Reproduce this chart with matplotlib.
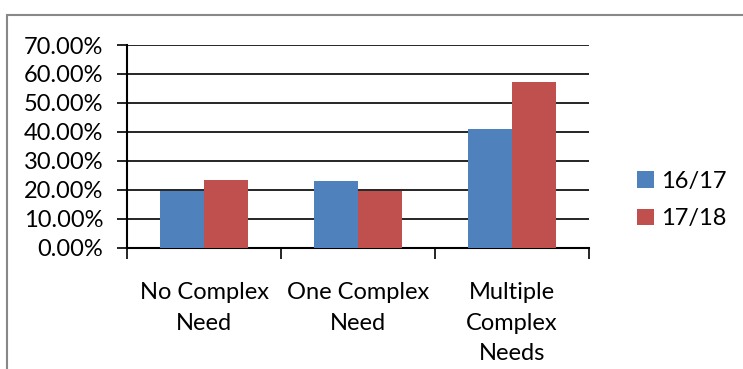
import matplotlib
matplotlib.use("Agg")
import matplotlib.pyplot as plt
from matplotlib.patches import Rectangle
from matplotlib.ticker import FixedLocator, PercentFormatter
import numpy as np

categories = ["No Complex\nNeed", "One Complex\nNeed", "Multiple\nComplex\nNeeds"]
series_names = ["16/17", "17/18"]
values_1617 = [19.7, 23.0, 41.0]
values_1718 = [23.4, 19.7, 57.2]
y_ticks = [0, 10, 20, 30, 40, 50, 60, 70]

colors = ["#4F81BD", "#C0504D"]
plt.rcParams["font.family"] = ["Lato", "DejaVu Sans"]
FS = 17

W, H, DPI = 743, 369, 100
fig = plt.figure(figsize=(W / DPI, H / DPI), dpi=DPI)

# outer chart frame
fig.patches.append(Rectangle((7 / W, -0.1), 1.1, 1 - 15 / H + 0.1,
                             transform=fig.transFigure, fill=False,
                             edgecolor="#888888", linewidth=1.5))

ax = fig.add_axes([127 / W, 1 - 247.7 / H, (589 - 127) / W, (247.7 - 45) / H])

x = np.arange(len(categories))
bw = 0.286
ax.bar(x - bw / 2, values_1617, bw, color=colors[0], label=series_names[0], zorder=3)
ax.bar(x + bw / 2, values_1718, bw, color=colors[1], label=series_names[1], zorder=3)

ax.set_xlim(-0.5, len(categories) - 0.5)
ax.set_ylim(0, 70)
ax.yaxis.set_major_locator(FixedLocator(y_ticks))
ax.yaxis.set_major_formatter(PercentFormatter(decimals=2))
ax.grid(axis="y", color="black", linewidth=1.2, zorder=0)

ax.set_xticks(x)
ax.set_xticklabels(categories, linespacing=1.55)
ax.xaxis.set_minor_locator(FixedLocator(np.arange(len(categories) + 1) - 0.5))
ax.tick_params(axis="x", which="major", length=0, pad=25, labelsize=FS)
ax.tick_params(axis="x", which="minor", length=8, width=1.2, direction="out")
ax.tick_params(axis="y", length=7, width=1.2, labelsize=FS, pad=10)

for side in ["top", "right"]:
    ax.spines[side].set_visible(False)
ax.spines["left"].set_linewidth(1.5)
ax.spines["bottom"].set_linewidth(1.5)

ax.legend(loc="center left", bbox_to_anchor=(637 / W, 1 - 200 / H),
          bbox_transform=fig.transFigure, frameon=False, fontsize=FS,
          handlelength=0.72, handleheight=0.72, handletextpad=0.3,
          labelspacing=0.7, borderpad=0, borderaxespad=0)

fig.savefig("out.png", dpi=DPI)
